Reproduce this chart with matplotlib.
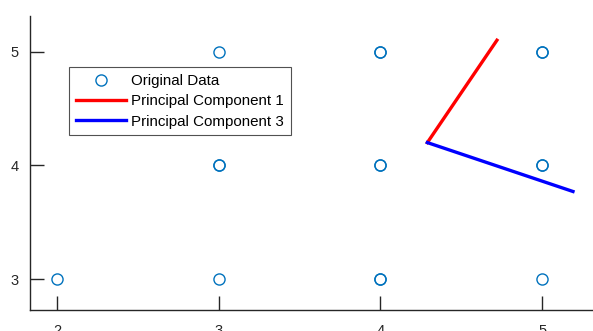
import matplotlib.pyplot as plt

plt.rcParams['font.family'] = ['Liberation Sans', 'DejaVu Sans']

# data points (duplicates kept, they overlap)
x_data = [2, 3, 3, 3, 3, 4, 4, 4, 4, 4, 4, 5, 5, 5, 5, 5]
y_data = [3, 3, 4, 4, 5, 3, 3, 4, 4, 5, 5, 3, 4, 4, 5, 5]

center = (4.29, 4.20)
pc1_end = (4.72, 5.10)
pc3_end = (5.19, 3.77)

fig = plt.figure(figsize=(5.93, 3.31), dpi=100)
ax = fig.add_axes([29.5 / 593, 1 - 310 / 331, 1.0, (310 - 16) / 331])

ax.plot(x_data, y_data, 'o', mfc='none', mec='#0072BD', ms=8, mew=1.0,
        linestyle='none', label='Original Data')
ax.plot([center[0], pc1_end[0]], [center[1], pc1_end[1]], color='red', lw=2.4,
        label='Principal Component 1')
ax.plot([center[0], pc3_end[0]], [center[1], pc3_end[1]], color='blue', lw=2.4,
        label='Principal Component 3')

ax.set_xlim(1.831, 1.831 + 593 / 161.8)
ax.set_ylim(2.728, 5.313)
ax.set_xticks([2, 3, 4, 5])
ax.set_yticks([3, 4, 5])
ax.tick_params(direction='in', length=10, width=1, colors='#262626',
               labelsize=10.5, pad=8)
ax.tick_params(axis='x', pad=10)
for s in ['top', 'right']:
    ax.spines[s].set_visible(False)
for s in ['left', 'bottom']:
    ax.spines[s].set_color('#262626')
    ax.spines[s].set_linewidth(1)

leg = ax.legend(loc='upper left', fontsize=10.9, frameon=True, fancybox=False,
                edgecolor='#262626', handlelength=3.3, borderpad=0.45,
                labelspacing=0.42, handletextpad=0.35, borderaxespad=0)
leg.get_frame().set_linewidth(0.8)
leg.set_bbox_to_anchor((69 / 593, 1 - 67 / 331), transform=fig.transFigure)

fig.savefig('out.png', dpi=100)
